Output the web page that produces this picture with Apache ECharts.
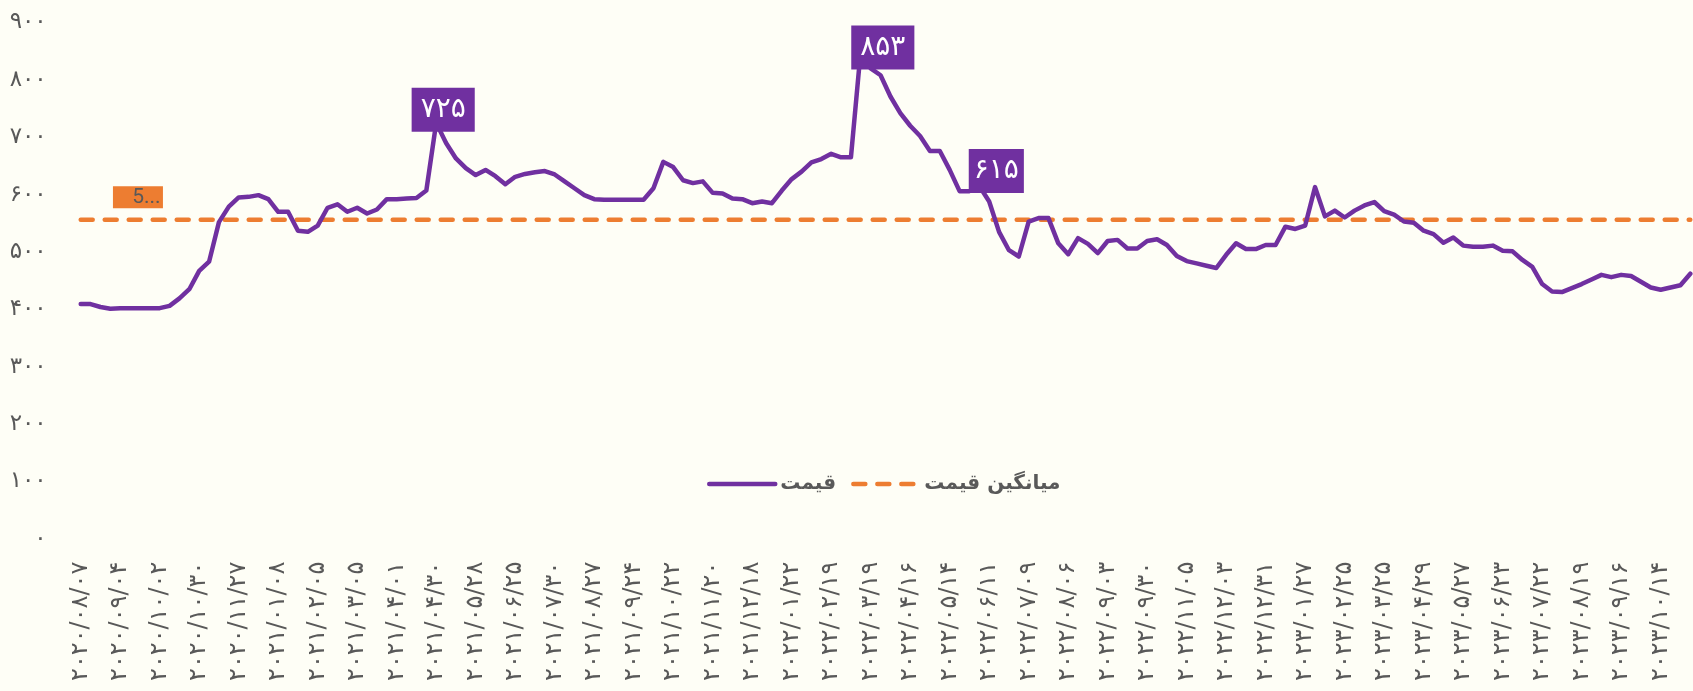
<!DOCTYPE html>
<html>
<head>
<meta charset="utf-8">
<script src="https://cdn.jsdelivr.net/npm/echarts@6/dist/echarts.min.js"></script>
<style>
  html, body { margin: 0; padding: 0; background: #FEFEF6; }
  #chart { width: 1693px; height: 691px; }
</style>
</head>
<body>
<div id="chart"></div>
<script>
// tick labels shown under the axis (every 4th point)
const xLabels = [
  '۲۰۲۰/۰۸/۰۷', '۲۰۲۰/۰۹/۰۴', '۲۰۲۰/۱۰/۰۲', '۲۰۲۰/۱۰/۳۰', '۲۰۲۰/۱۱/۲۷', '۲۰۲۱/۰۱/۰۸',
  '۲۰۲۱/۰۲/۰۵', '۲۰۲۱/۰۳/۰۵', '۲۰۲۱/۰۴/۰۱', '۲۰۲۱/۰۴/۳۰', '۲۰۲۱/۰۵/۲۸', '۲۰۲۱/۰۶/۲۵',
  '۲۰۲۱/۰۷/۳۰', '۲۰۲۱/۰۸/۲۷', '۲۰۲۱/۰۹/۲۴', '۲۰۲۱/۱۰/۲۲', '۲۰۲۱/۱۱/۲۰', '۲۰۲۱/۱۲/۱۸',
  '۲۰۲۲/۰۱/۲۲', '۲۰۲۲/۰۲/۱۹', '۲۰۲۲/۰۳/۱۹', '۲۰۲۲/۰۴/۱۶', '۲۰۲۲/۰۵/۱۴', '۲۰۲۲/۰۶/۱۱',
  '۲۰۲۲/۰۷/۰۹', '۲۰۲۲/۰۸/۰۶', '۲۰۲۲/۰۹/۰۳', '۲۰۲۲/۰۹/۳۰', '۲۰۲۲/۱۱/۰۵', '۲۰۲۲/۱۲/۰۳',
  '۲۰۲۲/۱۲/۳۱', '۲۰۲۳/۰۱/۲۷', '۲۰۲۳/۰۲/۲۵', '۲۰۲۳/۰۳/۲۵', '۲۰۲۳/۰۴/۲۹', '۲۰۲۳/۰۵/۲۷',
  '۲۰۲۳/۰۶/۲۳', '۲۰۲۳/۰۷/۲۲', '۲۰۲۳/۰۸/۱۹', '۲۰۲۳/۰۹/۱۶', '۲۰۲۳/۱۰/۱۴'
];

// weekly price (قیمت)
const prices = [
  409, 409, 404, 401, 402, 402, 402, 402, 402, 406, 419, 435, 467, 483, 552, 579,
  595, 596, 599, 592, 570, 570, 537, 535, 546, 577, 583, 570, 577, 567, 574, 592,
  592, 593, 594, 607, 725, 690, 663, 646, 634, 643, 632, 618, 631, 636, 639, 641,
  635, 623, 611, 599, 592, 591, 591, 591, 591, 591, 611, 657, 648, 625, 620, 623,
  603, 602, 593, 592, 585, 588, 585, 607, 627, 640, 656, 662, 671, 665, 665, 853,
  820, 808, 771, 742, 720, 702, 676, 676, 643, 606, 606, 615, 588, 535, 503, 492,
  553, 559, 559, 515, 496, 524, 514, 498, 519, 521, 506, 506, 519, 522, 512, 493,
  484, 480, 476, 472, 495, 515, 505, 505, 512, 512, 544, 540, 546, 613, 562, 572,
  560, 572, 581, 587, 571, 565, 553, 551, 537, 531, 516, 525, 511, 509, 509, 511,
  502, 501, 486, 474, 444, 431, 430, 437, 444, 452, 460, 456, 460, 458, 448, 438,
  434, 438, 442, 462
];

// average price (میانگین قیمت)
const avgPrice = 556;

// points that carry a value box
const labelledPoints = [36, 79, 91];
const avgLabelPoint = 6;

const yTicks = { min: 0, max: 900, step: 100 };

const faDigits = '۰۱۲۳۴۵۶۷۸۹';
function toFa(v) {
  return String(v).replace(/\d/g, d => faDigits[d]);
}

const categories = prices.map((p, i) => (i % 4 === 0 && xLabels[i / 4]) ? xLabels[i / 4] : '');

const boxOffsets = { 36: [7, -13], 79: [22, -2], 91: [17, -15] };
const boxPadding = { 36: [8, 9], 79: [8, 9], 91: [8, 5] };

// only the labelled points get an (invisible) symbol, so the labels can show
const priceData = prices.map((v, i) => {
  if (labelledPoints.indexOf(i) < 0) return v;
  return {
    value: v,
    symbol: 'circle',
    symbolSize: 0,
    label: {
      show: true,
      position: 'inside',
      offset: boxOffsets[i],
      formatter: p => toFa(p.value),
      color: '#FFFFFF',
      fontSize: 28,
      fontFamily: 'DejaVu Sans',
      backgroundColor: '#7030A0',
      padding: boxPadding[i]
    }
  };
});

const avgData = prices.map((p, i) => {
  if (i !== avgLabelPoint) return avgPrice;
  return {
    value: avgPrice,
    symbol: 'circle',
    symbolSize: 0,
    label: {
      show: true,
      position: 'inside',
      offset: [-2, -22.5],
      formatter: p => String(p.value),
      width: 31,
      overflow: 'truncate',
      ellipsis: '...',
      color: '#595959',
      fontSize: 21,
      fontFamily: 'Roboto',
      backgroundColor: '#ED7D31',
      padding: [1, 1, 0, 18]
    }
  };
});

const chart = echarts.init(document.getElementById('chart'), null, { renderer: 'canvas' });

chart.setOption({
  backgroundColor: '#FEFEF6',
  animation: false,
  grid: {
    left: 80.7,
    right: 2.7,
    top: 22.5,
    bottom: 152.3,
    outerBoundsMode: 'none'
  },
  legend: {
    left: 702,
    top: 469,
    itemWidth: 66,
    itemHeight: 14,
    itemGap: 15,
    itemStyle: { opacity: 0 },
    lineStyle: { width: 4.5, cap: 'round' },
    textStyle: {
      color: '#595959',
      fontSize: 20,
      fontWeight: 'bold',
      fontFamily: 'DejaVu Sans'
    },
    data: ['قیمت', 'میانگین قیمت']
  },
  xAxis: {
    type: 'category',
    boundaryGap: false,
    data: categories,
    axisLine: { show: false },
    axisTick: { show: false },
    axisLabel: {
      interval: 3,
      rotate: 90,
      margin: 23,
      color: '#595959',
      fontSize: 24,
      fontFamily: 'DejaVu Sans'
    }
  },
  yAxis: {
    type: 'value',
    min: yTicks.min,
    max: yTicks.max,
    interval: yTicks.step,
    splitLine: { show: false },
    axisLine: { show: false },
    axisTick: { show: false },
    axisLabel: {
      margin: 34,
      color: '#595959',
      fontSize: 23,
      fontFamily: 'DejaVu Sans',
      formatter: v => toFa(v)
    }
  },
  series: [
    {
      name: 'قیمت',
      type: 'line',
      data: priceData,
      symbol: 'none',
      z: 3,
      lineStyle: { color: '#7030A0', width: 4.5, cap: 'round', join: 'round' },
      itemStyle: { color: '#7030A0' },
      emphasis: { disabled: true }
    },
    {
      name: 'میانگین قیمت',
      type: 'line',
      data: avgData,
      symbol: 'none',
      z: 2,
      lineStyle: { color: '#ED7D31', width: 4.5, type: [12, 12], cap: 'round' },
      itemStyle: { color: '#ED7D31' },
      emphasis: { disabled: true }
    }
  ]
});
</script>
</body>
</html>
